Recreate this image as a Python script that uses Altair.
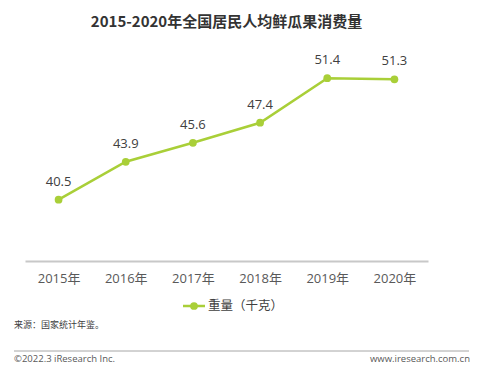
import altair as alt
import pandas as pd

years = ["2015年", "2016年", "2017年", "2018年", "2019年", "2020年"]
weights = [40.5, 43.9, 45.6, 47.4, 51.4, 51.3]
series_name = "重量（千克）"
title_text = "2015-2020年全国居民人均鲜瓜果消费量"
source_text = "来源：国家统计年鉴。"
footer_left = "©2022.3 iResearch Inc."
footer_right = "www.iresearch.com.cn"

GREEN = "#A9CF38"
FONT = "Open Sans, Noto Sans CJK SC, sans-serif"
CJK = "Noto Sans CJK SC, sans-serif"

df = pd.DataFrame({"year": years, "value": weights})

W, H = 403, 223

x = alt.X("year:N", sort=years, scale=alt.Scale(type="point", padding=0.5),
          axis=alt.Axis(title=None, labelAngle=0, ticks=False, grid=False,
                        domainColor="#c8c8c8", domainWidth=2,
                        labelColor="#595959", labelFontSize=13, labelFont=FONT,
                        labelPadding=11))
y = alt.Y("value:Q", scale=alt.Scale(domain=[35, 55], nice=False, zero=False), axis=None)

base = alt.Chart(df)
line = base.mark_line(color=GREEN, strokeWidth=2.5).encode(x=x, y=y)
pts = base.mark_circle(color=GREEN, size=60, opacity=1).encode(x=x, y=y)
labels = base.mark_text(dy=-18, fontSize=13, color="#404040", font=FONT).encode(
    x=x, y=y, text=alt.Text("value:Q", format=".1f"))

one = pd.DataFrame({"a": [0]})

def txt(s, xv, yv, **kw):
    return alt.Chart(one).mark_text(text=s, **kw).encode(x=alt.value(xv), y=alt.value(yv))

title = txt(title_text, W / 2, -16, fontSize=15, fontWeight="bold", color="#333333", font=CJK, baseline="middle")
leg_line = alt.Chart(one).mark_rule(color=GREEN, strokeWidth=2.5).encode(
    x=alt.value(158), x2=alt.value(180), y=alt.value(268))
leg_dot = alt.Chart(one).mark_circle(color=GREEN, size=60, opacity=1).encode(
    x=alt.value(169), y=alt.value(268))
leg_text = txt(series_name, 183, 268, fontSize=12.5, color="#404040", font=CJK, align="left", baseline="middle")
src = txt(source_text, -11, 287, fontSize=9, color="#404040", font=CJK, align="left", baseline="middle")
sep = alt.Chart(one).mark_rule(color="#a6a6a6", strokeWidth=1).encode(
    x=alt.value(-11), x2=alt.value(444), y=alt.value(313))
f_left = txt(footer_left, -11, 321, fontSize=9.5, color="#595959", font=FONT, align="left", baseline="middle")
f_right = txt(footer_right, 445, 321, fontSize=9.5, color="#595959", font=FONT, align="right", baseline="middle")

chart = alt.layer(line, pts, labels, title, leg_line, leg_dot, leg_text, src, sep, f_left, f_right).properties(
    width=W, height=H,
    autosize=alt.AutoSizeParams(type="none"),
    padding={"left": 17, "top": 30, "right": 45, "bottom": 105},
).configure_view(stroke=None)

chart.save("out.html", embed_options={"renderer": "svg", "actions": False})
